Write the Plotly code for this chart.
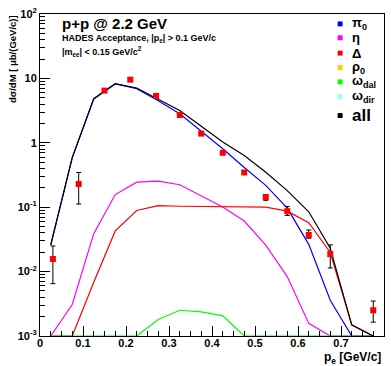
import plotly.graph_objects as go

# ---- measured e+e- spectrum vs electron momentum (p+p @ 2.2 GeV) ----
p_data = [0.03, 0.09, 0.15, 0.21, 0.27, 0.325, 0.375, 0.425, 0.475, 0.525, 0.575, 0.625, 0.675, 0.775]
y_data = [0.0157, 0.229, 6.47, 9.55, 5.35, 2.70, 1.39, 0.70, 0.346, 0.144, 0.0867, 0.037, 0.0187, 0.00251]
y_hi = [0.025, 0.346, 6.75, 9.95, 5.55, 2.80, 1.44, 0.73, 0.37, 0.157, 0.1026, 0.0443, 0.026, 0.00349]
y_lo = [0.0065, 0.112, 6.20, 9.15, 5.15, 2.60, 1.34, 0.67, 0.325, 0.128, 0.0745, 0.033, 0.0114, 0.00164]

# ---- simulated cocktail, bin centres ----
p_model = [0.025, 0.075, 0.125, 0.175, 0.225, 0.275, 0.325, 0.375,
           0.425, 0.475, 0.525, 0.575, 0.625, 0.675, 0.725, 0.775]
pi0 = [0.026, 0.59, 4.8, 8.2, 6.9, 4.51, 2.82, 1.51,
       0.81, 0.414, 0.218, 0.0966, 0.0265, 0.00358, 0.001, 0.001]
eta = [0.001, 0.00308, 0.0389, 0.157, 0.245, 0.254, 0.223, 0.149,
       0.101, 0.061, 0.0258, 0.00838, 0.00157, 0.001, 0.001, 0.001]
delta = [0.001, 0.001, 0.00684, 0.0428, 0.089, 0.106, 0.1035, 0.103,
         0.102, 0.101, 0.100, 0.0867, 0.0573, 0.0198, 0.0015, 0.001]
omega_dal = [0.001, 0.001, 0.001, 0.001, 0.001, 0.00181, 0.00251, 0.00237,
             0.00205, 0.001, 0.001, 0.001, 0.001, 0.001, 0.001, 0.001]
total = [0.026, 0.59, 4.85, 8.3, 7.1, 4.76, 3.18, 1.81,
         1.03, 0.634, 0.349, 0.181, 0.0848, 0.023, 0.00148, 0.001]

legend_names = ["π<sub>0</sub>", "η", "Δ", "ρ<sub>0</sub>", "ω<sub>dal</sub>", "ω<sub>dir</sub>", "all"]
legend_colors = ["#0000ff", "#ff00ff", "#ff0000", "#ffcc00", "#00ff00", "#99ffff", "#000000"]

x_tick_vals = [0, 0.1, 0.2, 0.3, 0.4, 0.5, 0.6, 0.7, 0.8]
x_tick_text = ["0", "0.1", "0.2", "0.3", "0.4", "0.5", "0.6", "0.7", "0.8"]
y_tick_vals = [1e-3, 1e-2, 1e-1, 1, 10, 100]
y_tick_text = ["10<sup>-3</sup>", "10<sup>-2</sup>", "10<sup>-1</sup>", "1", "10", "10<sup>2</sup>"]
y_minor_vals = [m * 10.0 ** e for e in range(-3, 2) for m in range(2, 10)]

FONT = "Liberation Sans"
W, H = 391, 366
L, R, T, B = 40, 6, 11, 30
PW, PH = W - L - R, H - T - B


def px_x(px):
    return (px - L) / PW


def px_y(py):
    return (H - B - py) / PH


fig = go.Figure()

curves = [(pi0, "#0000ff"), (eta, "#ff00ff"), (delta, "#ff0000"),
          (omega_dal, "#00ff00"), (total, "#000000")]
for ys, col in curves:
    fig.add_trace(go.Scatter(x=p_model, y=ys, mode="lines", showlegend=False,
                             line=dict(color=col, width=1.2), hoverinfo="skip"))

err_plus = [h - v for h, v in zip(y_hi, y_data)]
err_minus = [v - l for v, l in zip(y_data, y_lo)]
fig.add_trace(go.Scatter(
    x=p_data, y=y_data, mode="markers", showlegend=False,
    marker=dict(symbol="square", size=6, color="#ff0000"),
    error_y=dict(type="data", array=err_plus, arrayminus=err_minus,
                 color="#000000", thickness=1, width=2.5),
))

# helper trace carrying the minor-tick axis
fig.add_trace(go.Scatter(x=[None], y=[None], yaxis="y2", showlegend=False, hoverinfo="skip"))

# legend block: filled boxes with labels
legend_rows = [21, 35, 50.5, 65, 79.5, 94.5, 113.5]
for name, col, row in zip(legend_names, legend_colors, legend_rows):
    fig.add_shape(type="rect", xref="paper", yref="paper",
                  x0=px_x(338.5), x1=px_x(343.5), y0=px_y(row + 2.5), y1=px_y(row - 2.5),
                  fillcolor=col, line=dict(width=0))
    size = 17 if name == "all" else 13
    fig.add_annotation(text=name, xref="paper", yref="paper",
                       x=px_x(351), y=px_y(row), xanchor="left", yanchor="middle",
                       showarrow=False, font=dict(size=size, family=FONT, weight="bold"))

axis_common = dict(showgrid=False, zeroline=False, ticks="inside", tickwidth=1,
                   tickcolor="black", showline=True, linecolor="black", linewidth=1,
                   mirror=True)

fig.update_layout(
    width=W, height=H,
    margin=dict(l=L, r=R, t=T, b=B),
    paper_bgcolor="white", plot_bgcolor="white",
    font=dict(family=FONT, color="black"),
    showlegend=False,
    xaxis=dict(range=[0, 0.8], tickmode="array", tickvals=x_tick_vals, ticktext=x_tick_text,
               ticklen=10, ticklabelstandoff=-3,
               tickfont=dict(size=11, family=FONT, weight="bold", color="black"),
               minor=dict(dtick=0.025, tick0=0, ticks="inside", ticklen=5,
                          tickwidth=1, tickcolor="black", showgrid=False),
               **axis_common),
    yaxis=dict(type="log", range=[-3, 2], tickmode="array",
               tickvals=y_tick_vals, ticktext=y_tick_text, ticklen=10,
               tickfont=dict(size=11, family=FONT, weight="bold", color="black"),
               **axis_common),
    yaxis2=dict(type="log", range=[-3, 2], overlaying="y", side="left",
                tickmode="array", tickvals=y_minor_vals, ticklen=5,
                showticklabels=False, showgrid=False, zeroline=False,
                ticks="inside", tickwidth=1, tickcolor="black", showline=False),
)

fig.add_annotation(text="p+p @ 2.2 GeV", xref="paper", yref="paper",
                   x=px_x(60), y=px_y(21), xanchor="left", yanchor="middle", showarrow=False,
                   font=dict(size=15, family=FONT, weight="bold"))
fig.add_annotation(text="HADES Acceptance, |p<sub>e</sub>| > 0.1 GeV/c", xref="paper", yref="paper",
                   x=px_x(60), y=px_y(36), xanchor="left", yanchor="middle", showarrow=False,
                   font=dict(size=9, family=FONT, weight="bold"))
fig.add_annotation(text="|m<sub>ee</sub>| < 0.15 GeV/c<sup>2</sup>", xref="paper", yref="paper",
                   x=px_x(60), y=px_y(49), xanchor="left", yanchor="middle", showarrow=False,
                   font=dict(size=9, family=FONT, weight="bold"))
fig.add_annotation(text="dσ/dM [ μb/(GeV/c)]", xref="paper", yref="paper",
                   x=px_x(12), y=px_y(10), xanchor="center", yanchor="top", textangle=-90,
                   showarrow=False, font=dict(size=9.5, family=FONT, weight="bold"))
fig.add_annotation(text="p<sub>e</sub> [GeV/c]", xref="paper", yref="paper",
                   x=px_x(384), y=px_y(358), xanchor="right", yanchor="middle",
                   showarrow=False, font=dict(size=12, family=FONT, weight="bold"))

fig.write_html("out.html")
